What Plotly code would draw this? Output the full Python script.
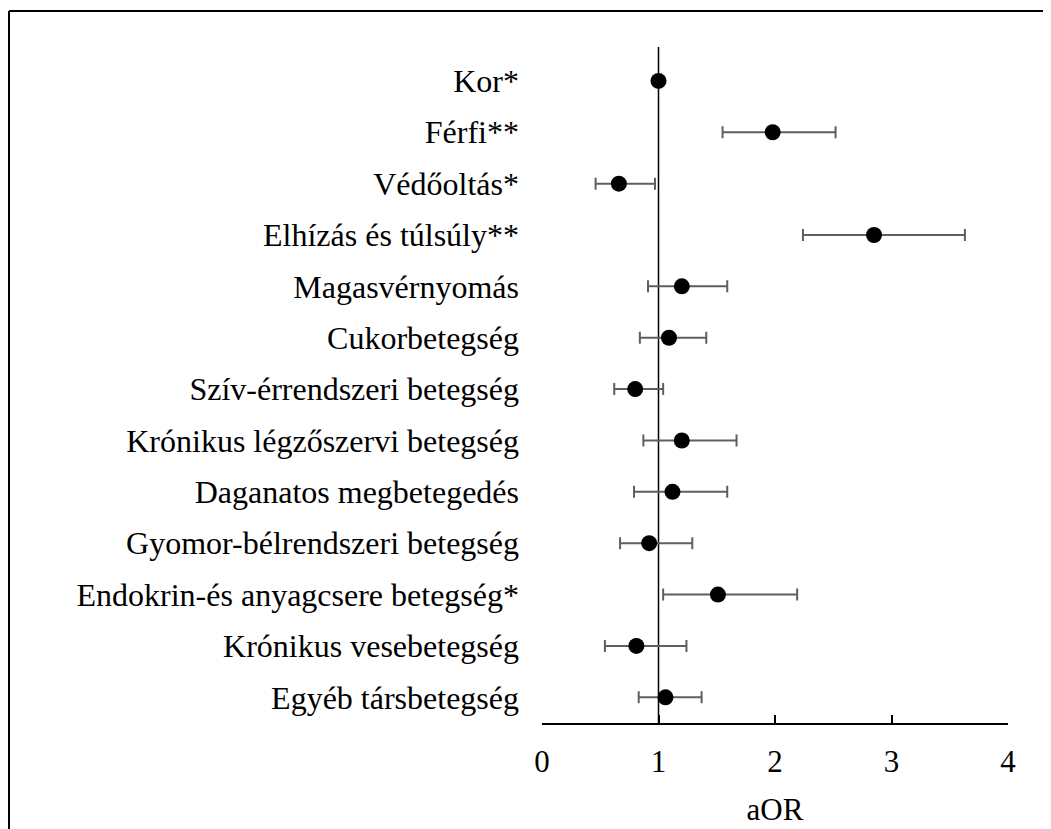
import plotly.graph_objects as go

categories = [
    "Kor*", "Férfi**", "Védőoltás*", "Elhízás és túlsúly**", "Magasvérnyomás",
    "Cukorbetegség", "Szív-érrendszeri betegség", "Krónikus légzőszervi betegség",
    "Daganatos megbetegedés", "Gyomor-bélrendszeri betegség",
    "Endokrin-és anyagcsere betegség*", "Krónikus vesebetegség", "Egyéb társbetegség",
]
aor = [1.00, 1.98, 0.66, 2.85, 1.20, 1.09, 0.80, 1.20, 1.12, 0.92, 1.51, 0.81, 1.06]
ci_low = [1.00, 1.55, 0.46, 2.24, 0.91, 0.84, 0.62, 0.87, 0.79, 0.67, 1.04, 0.54, 0.83]
ci_high = [1.00, 2.52, 0.97, 3.63, 1.59, 1.41, 1.04, 1.67, 1.59, 1.29, 2.19, 1.24, 1.37]
x_ticks = [0, 1, 2, 3, 4]

err_plus = [h - v for h, v in zip(ci_high, aor)]
err_minus = [v - l for v, l in zip(aor, ci_low)]

FONT = "Liberation Serif"

fig = go.Figure()
fig.add_trace(go.Scatter(
    x=aor, y=categories, mode="markers",
    marker=dict(color="black", size=16),
    error_x=dict(type="data", symmetric=False, array=err_plus, arrayminus=err_minus,
                 color="#5f5f5f", thickness=2, width=6),
    showlegend=False, hoverinfo="x+y",
))

# page body adds an 8px offset, so the figure is sized to fit the window
W, H = 1043, 821
L, R, T, B = 534, 43, 39, 106
pw, ph = W - L - R, H - T - B

def px2x(px):
    return (px - L) / pw

def py2y(py):
    return (H - B - py) / ph

fig.update_layout(
    width=W, height=H,
    margin=dict(l=L, r=R, t=T, b=B, autoexpand=False),
    paper_bgcolor="white", plot_bgcolor="white",
    font=dict(family=FONT, color="black", size=31),
    xaxis=dict(
        range=[0, 4], tickvals=x_ticks, ticks="inside", ticklen=8, tickwidth=1.5,
        tickcolor="black", showline=True, linecolor="black", linewidth=1.5,
        showgrid=False, zeroline=False, tickfont=dict(size=31, family=FONT),
        ticklabelstandoff=10, automargin=False,
        title=dict(text="aOR", font=dict(size=31, family=FONT), standoff=20),
    ),
    yaxis=dict(
        type="category", categoryorder="array", categoryarray=categories,
        range=[12.5, -0.66], showgrid=False, zeroline=False, showline=False,
        ticks="", tickfont=dict(size=32, family=FONT), ticklabelstandoff=22,
        automargin=False,
    ),
    shapes=[
        dict(type="line", xref="x", yref="paper", x0=1, x1=1, y0=0, y1=1,
             line=dict(color="black", width=1.5), layer="below"),
        dict(type="line", xref="paper", yref="paper", x0=px2x(1), x1=px2x(1060),
             y0=py2y(3), y1=py2y(3), line=dict(color="black", width=2)),
        dict(type="line", xref="paper", yref="paper", x0=px2x(1), x1=px2x(1),
             y0=py2y(3), y1=py2y(840), line=dict(color="black", width=2)),
    ],
)

fig.write_html("out.html")
